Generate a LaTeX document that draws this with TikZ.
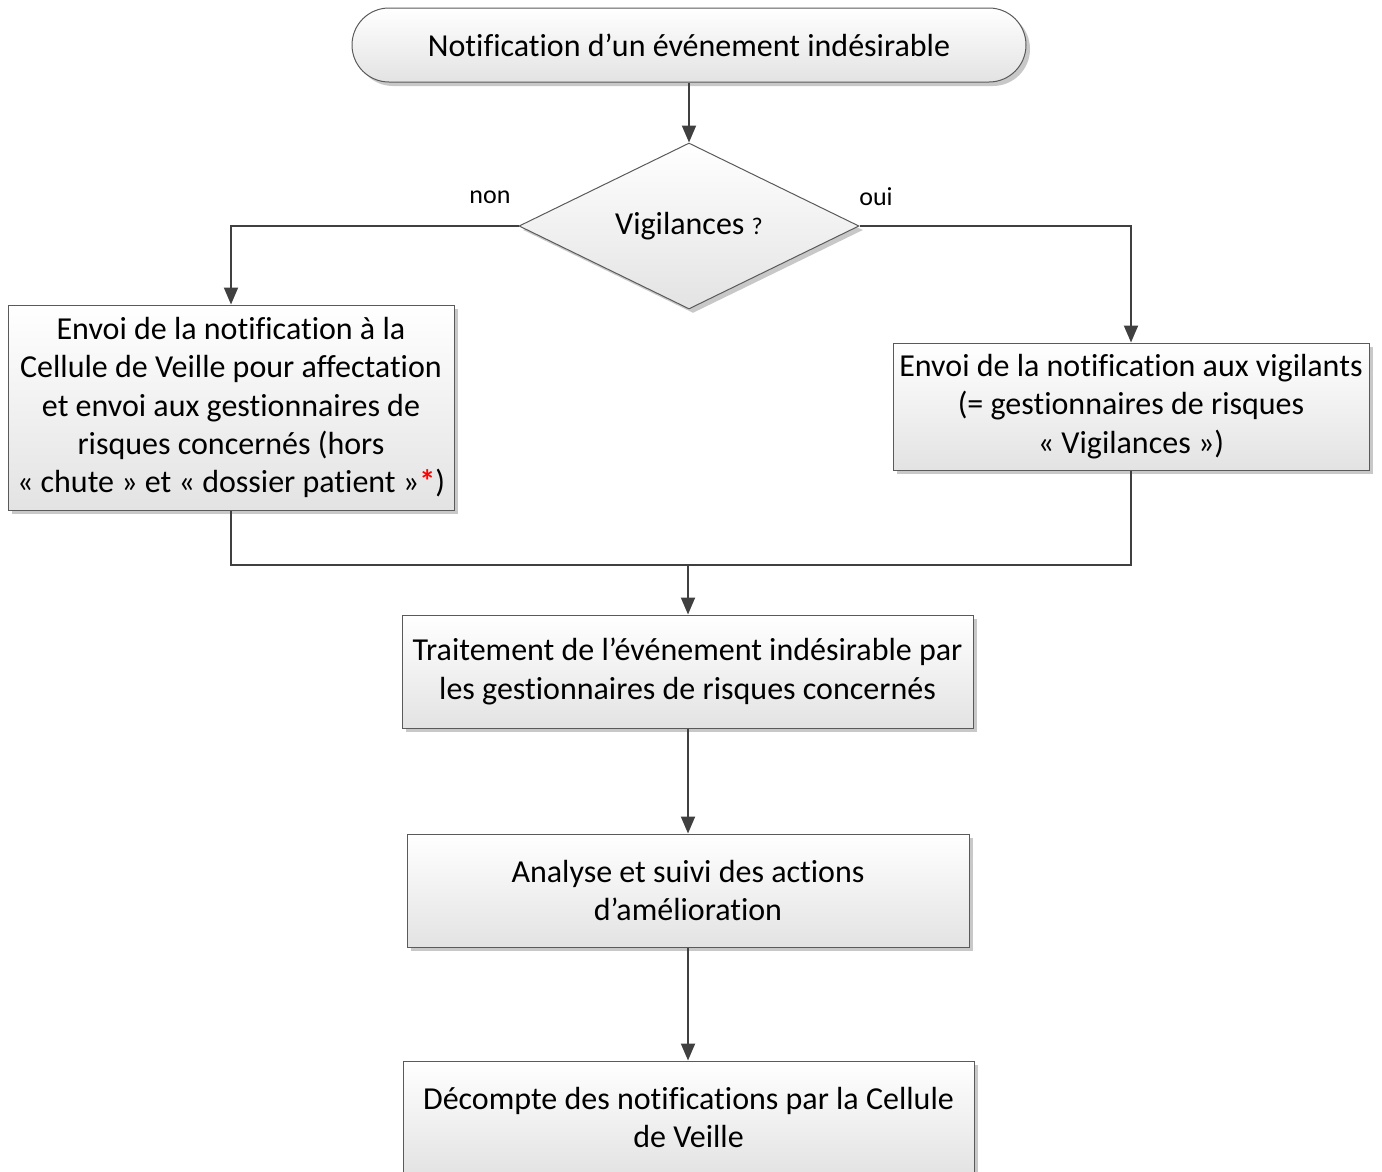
\documentclass[tikz,border=0pt]{standalone}
\usepackage{fontspec}
\setmainfont[Ligatures={NoCommon}]{Carlito}
\usetikzlibrary{arrows.meta,shapes.geometric,shadows}
\definecolor{linegray}{HTML}{404040}
\definecolor{bordergray}{HTML}{5A5A5A}
\definecolor{shadowgray}{HTML}{C8C8C8}
\begin{document}
\begin{tikzpicture}[x=1pt,y=-1pt,
  txt/.style={font=\fontsize{32}{38.3}\selectfont, align=center, text=black},
  box/.style={txt, draw=bordergray, line width=1pt, top color=white, bottom color=black!11,
    drop shadow={shadow xshift=4pt, shadow yshift=-4pt, fill=shadowgray, opacity=1},
    inner sep=0pt},
  conn/.style={draw=linegray, line width=2pt, -{Triangle[length=17pt,width=14pt]}},
  wire/.style={draw=linegray, line width=2pt},
  lbl/.style={font=\fontsize{26}{30}\selectfont, text=black}]
\useasboundingbox (0,0) rectangle (1382,1171);

% start terminal
\node[box, rounded corners=37pt, minimum width=674pt, minimum height=74pt] (start) at (689,45)
  {Notification d’un événement indésirable};

% decision
\node[box, diamond, aspect=2.05, minimum width=340pt, minimum height=166pt] (dec) at (689,226)
  {Vigilances {\fontsize{24}{28}\selectfont ?}};
\node[lbl] (non) at (490,197) {non};
\node[lbl] (oui) at (876,197) {oui};

% two branches
\node[box, minimum width=446pt, minimum height=205pt] (left) at (231,407.5)
  {Envoi de la notification à la\\Cellule de Veille pour affectation\\et envoi aux gestionnaires de\\risques concernés (hors\\« chute » et « dossier patient »{\color{red}\bfseries*})};
\node[box, minimum width=476pt, minimum height=127pt] (right) at (1131,406.5)
  {Envoi de la notification aux vigilants\\(= gestionnaires de risques\\« Vigilances »)};

% main sequence
\node[box, minimum width=571pt, minimum height=113pt] (treat) at (687.5,671.5)
  {Traitement de l’événement indésirable par\\les gestionnaires de risques concernés};
\node[box, minimum width=562pt, minimum height=113pt] (anal) at (688,890.5)
  {Analyse et suivi des actions\\d’amélioration};
\node[box, minimum width=571pt, minimum height=113pt] (count) at (688.5,1117.5)
  {Décompte des notifications par la Cellule\\de Veille};

% connectors
\coordinate (merge) at (688,565);
\draw[conn] (start) -- (dec);
\draw[conn] (dec.west) -| (left.north);
\draw[conn] (dec.east) -| (right.north);
\draw[wire] (left.south) |- (merge);
\draw[wire] (right.south) |- (merge);
\draw[conn] (merge) -- (treat.north -| merge);
\draw[conn] (treat.south -| merge) -- (anal.north -| merge);
\draw[conn] (anal.south -| merge) -- (count.north -| merge);
\end{tikzpicture}
\end{document}
